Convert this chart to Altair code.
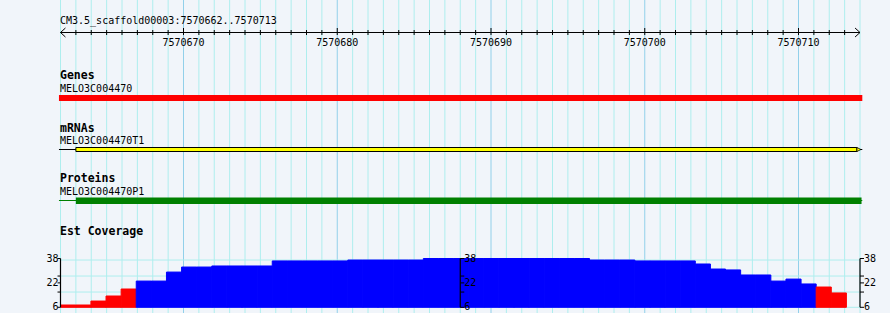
import altair as alt
import pandas as pd

# ---------------- data ----------------
region_title = "CM3.5_scaffold00003:7570662..7570713"
view_start, view_end = 7570662, 7570714
ruler_labels = [7570670, 7570680, 7570690, 7570700, 7570710]

track_names = ["Genes", "mRNAs", "Proteins", "Est Coverage"]
feature_names = ["MELO3C004470", "MELO3C004470T1", "MELO3C004470P1"]

gene_span = [7570661.9, 7570714.15]
mrna_span = [7570661.9, 7570714.15]
mrna_box = [7570663, 7570713.8]
protein_span = [7570661.9, 7570714.15]
protein_box = [7570663, 7570714.1]

# EST coverage, one value per histogram bin (52 bins)
coverage = [7.5, 7.5, 10.1, 13.4, 18.0, 23.2, 23.2, 29.1, 32.4, 32.4,
            33.1, 33.1, 33.1, 33.1, 36.4, 36.4, 36.4, 36.4, 36.4, 37.0,
            37.0, 37.0, 37.0, 37.0, 38.0, 38.0, 38.0, 38.0, 38.0, 38.0,
            38.0, 38.0, 38.0, 38.0, 38.0, 37.0, 37.0, 37.0, 36.4, 36.4,
            36.4, 36.4, 34.4, 31.1, 30.5, 27.2, 27.2, 23.2, 24.5, 21.3,
            19.3, 15.4]
cov_min, cov_max = 6, 38
cov_tick_labels = [38, 22, 6]
cov_minor_ticks = [26.5, 16.0]
cov_grid = [37.0, 26.5, 16.0, 6.0]
low_threshold = 20
cov_axis_pos = [7570662, 7570688, 7570714]

# ---------------- style ----------------
FONT = "DejaVu Sans Mono"
BG = "#F1F5FA"
GRID_MINOR = "#AEEEEE"
GRID_MAJOR = "#92D0EA"

XS = alt.Scale(domain=[view_start, view_end], range=[60.5, 860.0], nice=False, zero=False)
HXS = alt.Scale(domain=[0, len(coverage)], range=[60.7, 846.4], nice=False, zero=False)
YS = alt.Scale(domain=[cov_min, cov_max], range=[307.3, 258.5], nice=False, zero=False)


def X(field):
    return alt.X(field, type="quantitative", scale=XS, axis=None)


def text(**kw):
    base = dict(font=FONT, fontSize=10, color="black", baseline="middle", align="left")
    base.update(kw)
    return base


layers = []

# vertical grid
grid_df = pd.DataFrame({"pos": list(range(view_start, view_end + 1))})
grid_df["major"] = grid_df["pos"] % 10 == 0
layers.append(
    alt.Chart(grid_df).mark_rule(strokeWidth=1).encode(
        x=X("pos"), y=alt.value(0), y2=alt.value(313),
        color=alt.condition("datum.major", alt.value(GRID_MAJOR), alt.value(GRID_MINOR)),
    )
)

# horizontal grid in coverage track
hg_df = pd.DataFrame({"v": cov_grid, "s": view_start, "e": view_end})
layers.append(
    alt.Chart(hg_df).mark_rule(color=GRID_MINOR, strokeWidth=1).encode(
        x=X("s"), x2="e:Q", y=alt.Y("v:Q", scale=YS, axis=None)
    )
)

# ruler
span_df = pd.DataFrame({"s": [view_start], "e": [view_end]})
layers.append(
    alt.Chart(span_df).mark_rule(color="black", strokeWidth=1).encode(
        x=X("s"), x2="e:Q", y=alt.value(32.5)
    )
)
tick_df = pd.DataFrame({"pos": list(range(view_start + 1, view_end))})
tick_df["major"] = tick_df["pos"] % 10 == 0
layers.append(
    alt.Chart(tick_df[~tick_df["major"]]).mark_rule(color="black").encode(
        x=X("pos"), y=alt.value(30), y2=alt.value(35)
    )
)
layers.append(
    alt.Chart(tick_df[tick_df["major"]]).mark_rule(color="black").encode(
        x=X("pos"), y=alt.value(28), y2=alt.value(35)
    )
)
layers.append(
    alt.Chart(pd.DataFrame({"p": [view_start]})).mark_point(
        shape="M1.1,-1L0,0L1.1,1", filled=False, stroke="black", strokeWidth=1, size=81, opacity=1
    ).encode(x=X("p"), y=alt.value(32.5))
)
layers.append(
    alt.Chart(pd.DataFrame({"p": [view_end]})).mark_point(
        shape="M-1.1,-1L0,0L-1.1,1", filled=False, stroke="black", strokeWidth=1, size=81, opacity=1
    ).encode(x=X("p"), y=alt.value(32.5))
)
layers.append(
    alt.Chart(pd.DataFrame({"p": ruler_labels})).mark_text(**text(align="center")).encode(
        x=X("p"), y=alt.value(42.5), text="p:N"
    )
)
layers.append(
    alt.Chart(pd.DataFrame({"t": [region_title]})).mark_text(**text()).encode(
        x=alt.value(60), y=alt.value(21), text="t:N"
    )
)

# track labels
for name, y in zip(track_names, [76, 128.5, 179, 231.5]):
    layers.append(
        alt.Chart(pd.DataFrame({"t": [name]})).mark_text(**text(fontSize=11.5, fontWeight="bold")).encode(
            x=alt.value(60), y=alt.value(y), text="t:N"
        )
    )
for name, y in zip(feature_names, [88.5, 141, 191.5]):
    layers.append(
        alt.Chart(pd.DataFrame({"t": [name]})).mark_text(**text()).encode(
            x=alt.value(60), y=alt.value(y), text="t:N"
        )
    )

# gene
layers.append(
    alt.Chart(pd.DataFrame({"s": [gene_span[0]], "e": [gene_span[1]]})).mark_rect(color="#FF0000").encode(
        x=X("s"), x2="e:Q", y=alt.value(95), y2=alt.value(101)
    )
)
# mRNA
layers.append(
    alt.Chart(pd.DataFrame({"s": [mrna_span[0]], "e": [mrna_span[1]]})).mark_rule(color="black", strokeWidth=1).encode(
        x=X("s"), x2="e:Q", y=alt.value(149.5)
    )
)
layers.append(
    alt.Chart(pd.DataFrame({"s": [mrna_box[0]], "e": [mrna_box[1]]})).mark_rect(
        fill="#FFFF00", stroke="black", strokeWidth=1
    ).encode(x=X("s"), x2="e:Q", y=alt.value(147.5), y2=alt.value(151.5))
)
layers.append(
    alt.Chart(pd.DataFrame({"p": [mrna_box[1]]})).mark_point(
        shape="M-1,-1L1,0L-1,1Z", filled=True, fill="#FFFF00", stroke="black", strokeWidth=0.8,
        size=16, opacity=1, xOffset=2
    ).encode(x=X("p"), y=alt.value(149.5))
)
# protein
layers.append(
    alt.Chart(pd.DataFrame({"s": [protein_span[0]], "e": [protein_span[1]]})).mark_rule(color="#008000", strokeWidth=1).encode(
        x=X("s"), x2="e:Q", y=alt.value(200.5)
    )
)
layers.append(
    alt.Chart(pd.DataFrame({"s": [protein_box[0]], "e": [protein_box[1]]})).mark_rect(color="#008000").encode(
        x=X("s"), x2="e:Q", y=alt.value(197.5), y2=alt.value(204)
    )
)

# coverage histogram
cov_df = pd.DataFrame({"i": list(range(len(coverage))), "v": coverage})
cov_df["i1"] = cov_df["i"] + 1
cov_df["base"] = cov_min
col = alt.condition(f"datum.v < {low_threshold}", alt.value("#FF0000"), alt.value("#0000FF"))
layers.append(
    alt.Chart(cov_df).mark_rect(strokeWidth=1).encode(
        x=alt.X("i:Q", scale=HXS, axis=None), x2="i1:Q",
        y=alt.Y("v:Q", scale=YS, axis=None), y2="base:Q",
        fill=col, stroke=col,
    )
)

# coverage y axes
ax_df = pd.DataFrame({"p": cov_axis_pos, "lo": cov_min, "hi": cov_max})
layers.append(
    alt.Chart(ax_df).mark_rule(color="black", strokeWidth=1.2).encode(
        x=X("p"), y=alt.Y("lo:Q", scale=YS, axis=None), y2="hi:Q"
    )
)
tv = cov_tick_labels + cov_minor_ticks
left_t = pd.DataFrame({"p": cov_axis_pos[0], "v": tv})
right_t = pd.DataFrame([{"p": p, "v": v} for p in cov_axis_pos[1:] for v in tv])
layers.append(
    alt.Chart(left_t).mark_rule(color="black", strokeWidth=1, xOffset=-3, x2Offset=0).encode(
        x=X("p"), x2="p:Q", y=alt.Y("v:Q", scale=YS, axis=None)
    )
)
layers.append(
    alt.Chart(right_t).mark_rule(color="black", strokeWidth=1, xOffset=0, x2Offset=4).encode(
        x=X("p"), x2="p:Q", y=alt.Y("v:Q", scale=YS, axis=None)
    )
)
left_l = pd.DataFrame({"p": cov_axis_pos[0], "v": cov_tick_labels})
right_l = pd.DataFrame([{"p": p, "v": v} for p in cov_axis_pos[1:] for v in cov_tick_labels])
layers.append(
    alt.Chart(left_l).mark_text(**text(align="right", dx=-2)).encode(
        x=X("p"), y=alt.Y("v:Q", scale=YS, axis=None), text="v:N"
    )
)
layers.append(
    alt.Chart(right_l).mark_text(**text(align="left", dx=4)).encode(
        x=X("p"), y=alt.Y("v:Q", scale=YS, axis=None), text="v:N"
    )
)

chart = (
    alt.layer(*layers)
    .resolve_scale(x="independent", y="independent")
    .properties(width=890, height=313, padding=0,
                autosize=alt.AutoSizeParams(type="none"), background=BG)
    .configure_view(stroke=None, fill=BG)
)

chart.save("out.html", embed_options={"renderer": "svg", "actions": False})
